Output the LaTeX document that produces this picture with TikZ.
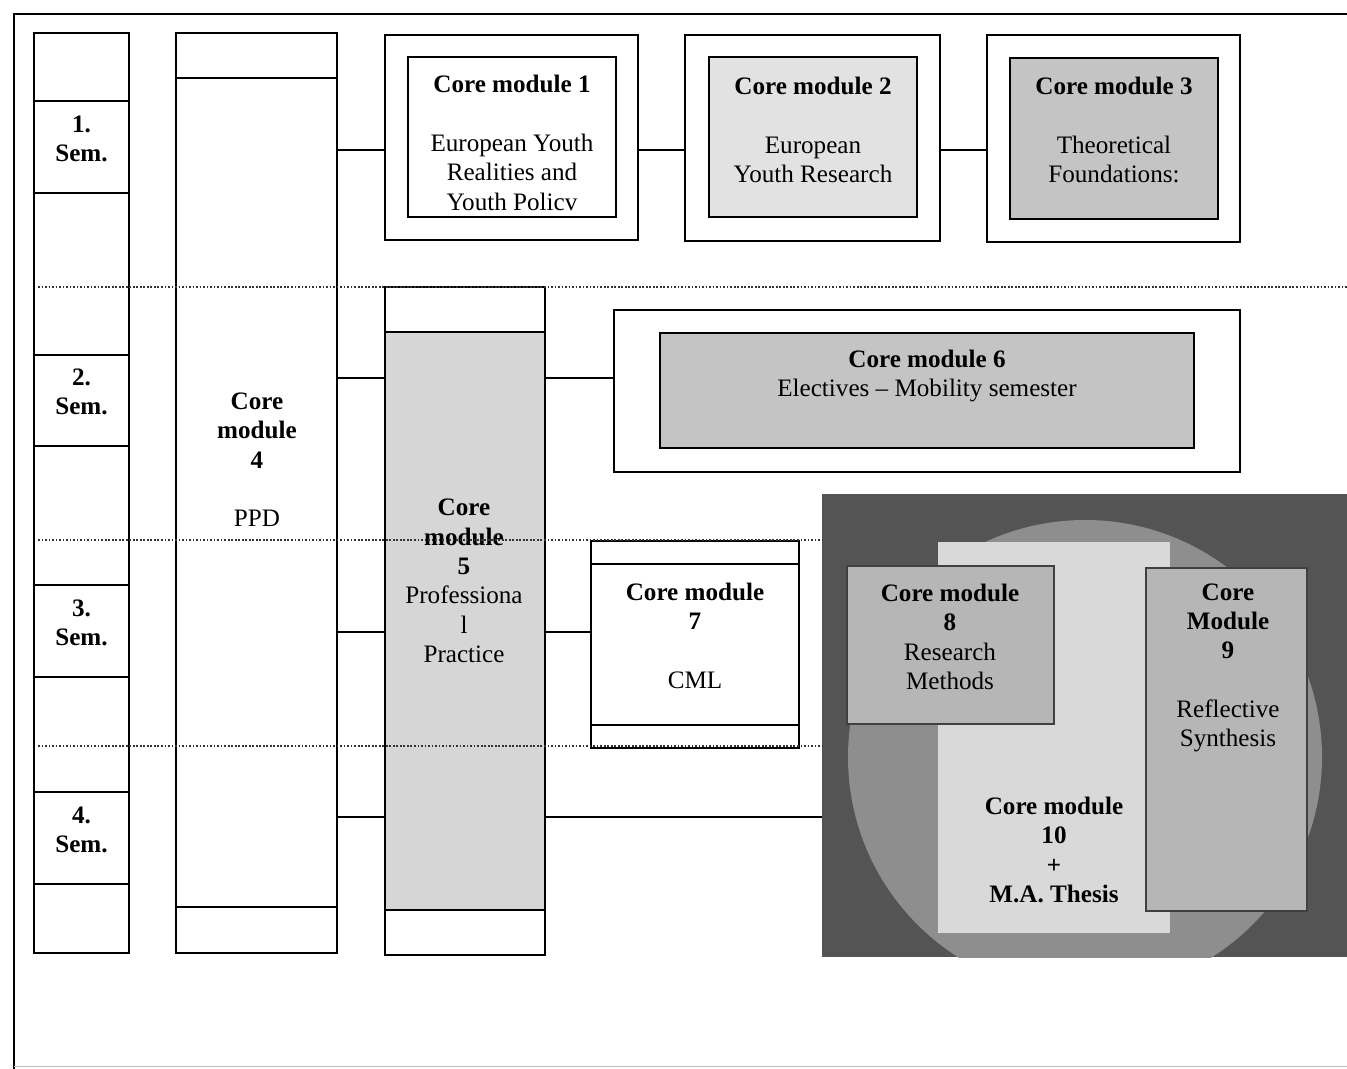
\documentclass[tikz,border=0pt]{standalone}
\usepackage{fontspec}
\setmainfont{Liberation Serif}
\usetikzlibrary{fit,positioning,calc}
\definecolor{lightg}{HTML}{E2E2E2}
\definecolor{midg}{HTML}{C4C4C4}
\definecolor{practg}{HTML}{D6D6D6}
\definecolor{panelg}{HTML}{545454}
\definecolor{circg}{HTML}{8E8E8E}
\definecolor{thesisg}{HTML}{D9D9D9}
\definecolor{boxg}{HTML}{B6B6B6}
\newcommand\bodyfont{\fontsize{14.3}{16.7}\selectfont}

\begin{document}
\begin{tikzpicture}[x=0.02cm,y=-0.02cm,
  box/.style={draw,line width=1.1pt,inner sep=0pt,fit={#1},align=center,font=\bodyfont},
  flat/.style={inner sep=0pt,fit={#1}},
  thin/.style={draw=black!75,line width=0.6pt,inner sep=0pt,fit={#1}},
  txt/.style={align=center,inner sep=0pt,font=\bodyfont},
  lnk/.style={line width=1.1pt},
  dot/.style={densely dotted,line width=1pt,black!80},
]
\useasboundingbox (0,0) rectangle (1347,1069);
\draw[line width=1pt] (1347,14) -- (14,14) -- (14,1069);
\draw[black!25] (14,1066) -- (1347,1066);

% semesters
\node[box={(34,33) (129,953)}] (semcol) {};
\foreach \n/\t/\b in {1/101/193,2/355/446,3/585/677,4/792/884}
  \node[box={(34,\t) (129,\b)}] (sem\n) {\textbf{\n.}\\\textbf{Sem.}};

% long columns
\node[box={(176,33) (337,953)}] (cmfour) {};
\node[box={(176,78) (337,907)}] (cmfourmid) {};
\node[txt] (cmfourt) at (257,460) {\textbf{Core}\\\textbf{module}\\\textbf{4}\\[16.7pt]PPD};

\node[box={(385,287) (545,955)}] (cmfive) {};
\node[box={(385,332) (545,910)},fill=practg] (cmfivemid) {};
\node[txt] (cmfivet) at (464,581) {\textbf{Core}\\\textbf{module}\\\textbf{5}\\Professiona\\l\\Practice};

% first semester
\node[box={(385,35) (638,240)}] (cmone) {};
\node[box={(408,57) (616,217)}] (cmonein) {};
\node[txt] (cmonet) at (512,143) {\textbf{Core module 1}\\[16.7pt]European Youth\\Realities and\\Youth Policv};

\node[box={(685,35) (940,241)}] (cmtwo) {};
\node[box={(709,57) (917,217)},fill=lightg] (cmtwoin) {};
\node[txt] (cmtwot) at (813,130) {\textbf{Core module 2}\\[16.7pt]European\\Youth Research};

\node[box={(987,35) (1240,242)}] (cmthree) {};
\node[box={(1010,58) (1218,219)},fill=midg] (cmthreein) {};
\node[txt] (cmthreet) at (1114,130) {\textbf{Core module 3}\\[16.7pt]Theoretical\\Foundations:};

% second semester
\node[box={(614,310) (1240,472)}] (cmsix) {};
\node[box={(660,333) (1194,448)},fill=midg] (cmsixin) {};
\node[txt] (cmsixt) at (927,376) {\textbf{Core module 6}\\Electives -- Mobility semester};

% third semester
\node[box={(591,541) (799,748)}] (cmseven) {};
\node[box={(591,564) (799,725)}] (cmsevenin) {};
\node[txt] (cmsevent) at (695,636) {\textbf{Core module}\\\textbf{7}\\[16.7pt]CML};

% thesis panel
\node[flat={(822,494) (1347,957)},fill=panelg] (panel) {};
\begin{scope}
  \clip (panel.south west) rectangle (panel.north east);
  \fill[circg] (1085,757) circle (237);
\end{scope}
\node[flat={(938,542) (1170,933)},fill=thesisg] (cmten) {};
\node[thin={(847,566) (1054,724)},fill=boxg] (cmeight) {};
\node[thin={(1146,568) (1307,911)},fill=boxg] (cmnine) {};
\node[txt] (cmeightt) at (950,637) {\textbf{Core module}\\\textbf{8}\\Research\\Methods};
\node[txt] (cmninet) at (1228,668) {\textbf{Core}\\\textbf{Module}\\\textbf{9}\\[16.7pt]Reflective\\Synthesis};
\node[txt] (cmtent) at (1054,850) {\textbf{Core module}\\\textbf{10}\\\textbf{+}\\\textbf{M.A. Thesis}};

% links
\coordinate (rowa) at (0,150);
\coordinate (rowb) at (0,378);
\coordinate (rowc) at (0,632);
\coordinate (rowd) at (0,817);
\draw[lnk] (cmfour.east |- rowa) -- (cmone.west |- rowa);
\draw[lnk] (cmone.east |- rowa) -- (cmtwo.west |- rowa);
\draw[lnk] (cmtwo.east |- rowa) -- (cmthree.west |- rowa);
\draw[lnk] (cmfour.east |- rowb) -- (cmfive.west |- rowb);
\draw[lnk] (cmfive.east |- rowb) -- (cmsix.west |- rowb);
\draw[lnk] (cmfour.east |- rowc) -- (cmfive.west |- rowc);
\draw[lnk] (cmfive.east |- rowc) -- (cmseven.west |- rowc);
\draw[lnk] (cmfour.east |- rowd) -- (cmfive.west |- rowd);
\draw[lnk] (cmfive.east |- rowd) -- (panel.west |- rowd);

% semester borders
\draw[dot] (38,287) -- (1347,287);
\draw[dot] (38,540) -- (panel.west |- 0,540);
\draw[dot] (38,746) -- (panel.west |- 0,746);
\end{tikzpicture}
\end{document}
